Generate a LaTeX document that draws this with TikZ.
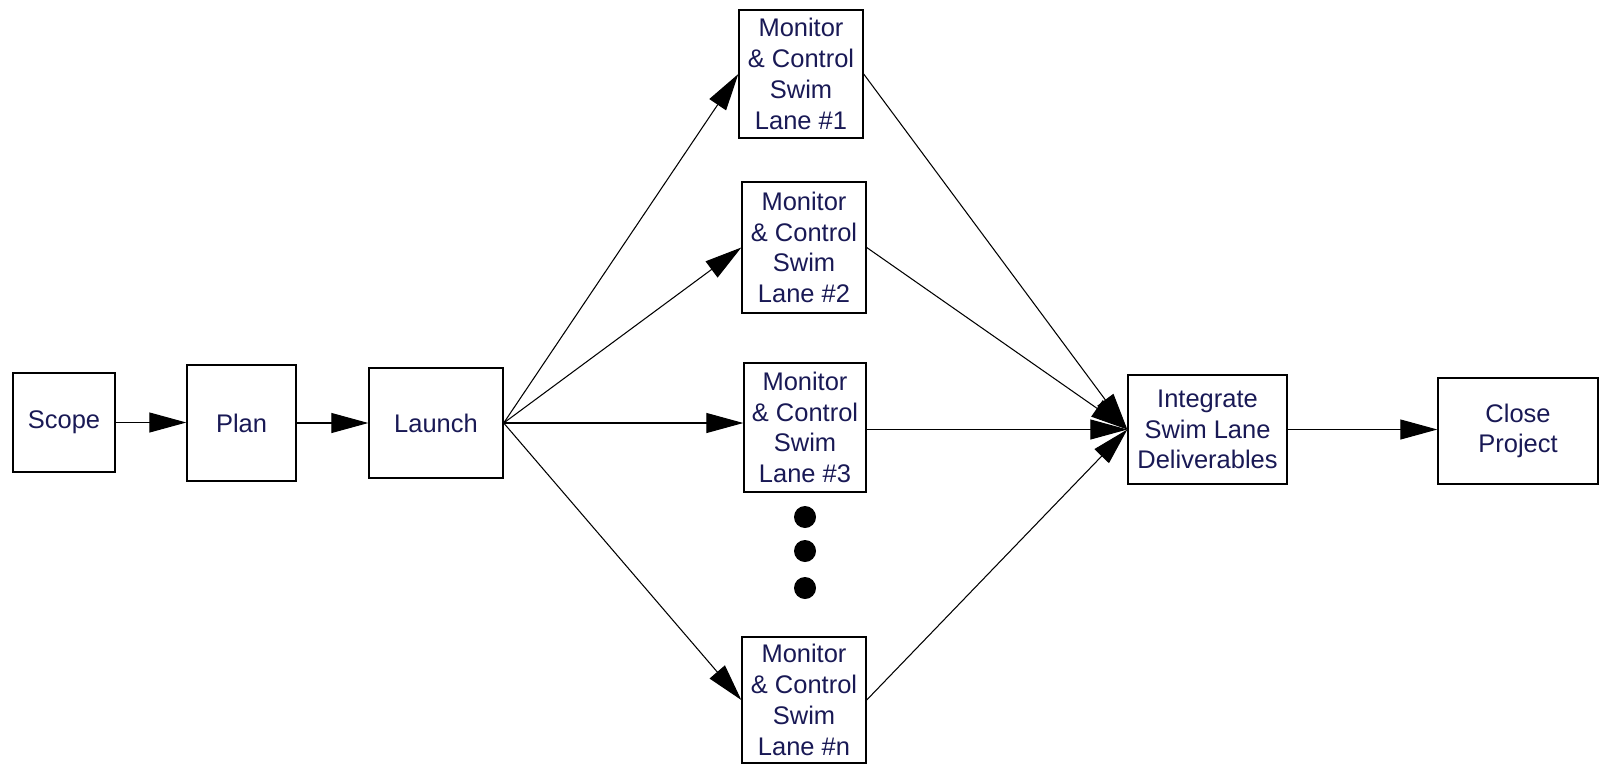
\documentclass[tikz,border=0pt]{standalone}
\usepackage{fontspec}
\setmainfont{Liberation Sans}
\usepackage{tikz}
\usetikzlibrary{arrows.meta, positioning}

\definecolor{inknavy}{RGB}{25,25,85}

\begin{document}
\begin{tikzpicture}[x=0.02cm, y=-0.02cm,
        box/.style={draw, line width=0.8pt, inner sep=0pt, align=center,
            text=inknavy, font=\fontsize{14.5}{17.5}\selectfont},
        flow/.style={line width=0.6pt, -{Triangle[length=0.74cm,width=0.4cm]}}]
            \useasboundingbox (0,0) rectangle (1604,764);

            % Left chain
            \node[box, minimum width=2.04cm, minimum height=1.98cm] (scope) at (64,422.5) {Scope};
            \node[box, minimum width=2.18cm, minimum height=2.32cm] (plan) at (241.5,423) {Plan};
            \node[box, minimum width=2.68cm, minimum height=2.20cm] (launch) at (436,423) {Launch};

            % Swim lanes
            \node[box, minimum width=2.48cm, minimum height=2.56cm] (lane1) at (801,74) {Monitor\\\& Control\\Swim\\Lane \#1};
            \node[box, minimum width=2.48cm, minimum height=2.62cm] (lane2) at (804,247.5) {Monitor\\\& Control\\Swim\\Lane \#2};
            \node[box, minimum width=2.44cm, minimum height=2.58cm] (lane3) at (805,427.5) {Monitor\\\& Control\\Swim\\Lane \#3};
            \node[box, minimum width=2.48cm, minimum height=2.52cm] (lanen) at (804,700) {Monitor\\\& Control\\Swim\\Lane \#n};

            % Dots between lanes
            \foreach \y in {517,551,588} {
                \fill (805,\y) circle (0.22cm);
            }

            % Right chain
            \node[box, minimum width=3.18cm, minimum height=2.18cm] (integrate) at (1207.5,429.5) {Integrate\\Swim Lane\\Deliverables};
            \node[box, minimum width=3.20cm, minimum height=2.12cm] (close) at (1518,431) {Close\\Project};

            % Arrows
            \draw[flow] (scope) -- (scope -| plan.west);
            \draw[flow] (plan) -- (plan -| launch.west);
            \foreach \l in {lane1,lane2,lanen} {
                \draw[flow] (launch.east) -- (\l.west);
                \draw[flow] (\l.east) -- (integrate.west);
            }
            \draw[flow] (launch.east) -- (launch.east -| lane3.west);
            \draw[flow] (lane3.east |- integrate.west) -- (integrate.west);
            \draw[flow] (integrate) -- (integrate -| close.west);
        \end{tikzpicture}
\end{document}
